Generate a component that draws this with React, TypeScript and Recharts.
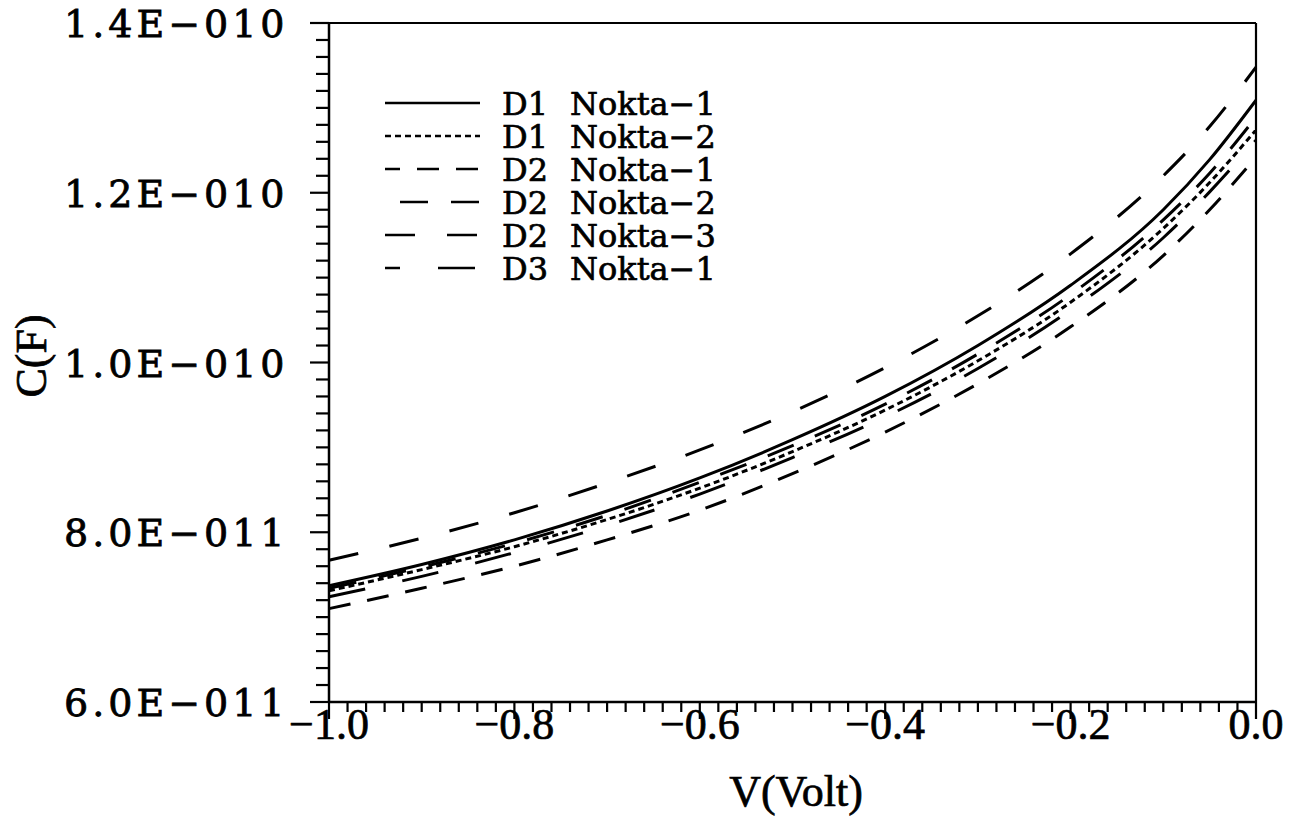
import { LineChart, Line, XAxis, YAxis, ReferenceLine, Legend } from "recharts";

// bias voltage (V)
const voltages = [-1.0, -0.9, -0.8, -0.7, -0.6, -0.5, -0.4, -0.3, -0.2, -0.1, -0.05, 0.0];

// capacitance in pF
const d1Nokta1 = [73.7, 76.2, 79.1, 82.5, 86.4, 90.9, 96.0, 102.0, 109.1, 118.0, 123.9, 130.9];
const d1Nokta2 = [73.1, 75.6, 78.3, 81.5, 85.2, 89.5, 94.4, 100.2, 107.1, 115.8, 121.2, 127.4];
const d2Nokta1 = [71.0, 73.4, 76.0, 79.1, 82.6, 86.9, 91.8, 97.5, 104.2, 112.6, 118.0, 124.2];
const d2Nokta2 = [73.4, 75.9, 78.7, 82.0, 85.9, 90.2, 95.1, 101.0, 108.0, 116.8, 122.3, 128.9];
const d2Nokta3 = [76.7, 79.3, 82.3, 85.8, 89.7, 94.2, 99.4, 105.5, 112.8, 122.0, 127.8, 134.8];
const d3Nokta1 = [72.4, 74.8, 77.6, 80.8, 84.5, 88.8, 93.6, 99.3, 106.2, 114.7, 120.1, 126.2];

const xTickLabels = ["−1.0", "−0.8", "−0.6", "−0.4", "−0.2", "0.0"];
const yTickLabels = ["6.0E−011", "8.0E−011", "1.0E−010", "1.2E−010", "1.4E−010"];

const seriesNames = ["D1 Nokta-1", "D1 Nokta-2", "D2 Nokta-1", "D2 Nokta-2", "D2 Nokta-3", "D3 Nokta-1"];
const seriesValues = [d1Nokta1, d1Nokta2, d2Nokta1, d2Nokta2, d2Nokta3, d3Nokta1];
const seriesDash = ["", "6 4", "22 17", "28 23", "30 32", "37 38"];
const legendOffset = [0, 0, 7, 36, 0, 22];

const data = voltages.map((v, i) => {
  const row: Record<string, number> = { v };
  seriesNames.forEach((name, s) => {
    row[name] = seriesValues[s][i];
  });
  return row;
});

// minor ticks every 0.02 V and every 2 pF
const xTicks = Array.from({ length: 51 }, (_, i) => -1 + i * 0.02);
const yTicks = Array.from({ length: 41 }, (_, i) => 60 + i * 2);

const serif = "'DejaVu Serif', serif";
const times = "'Liberation Serif', serif";

function XTick(props: any) {
  const { x, y, payload } = props;
  const k = Math.round((payload.value + 1) * 50);
  const major = k % 10 === 0;
  return (
    <g>
      <line x1={x} y1={y} x2={x} y2={y + (major ? 17 : 10)} stroke="#000" strokeWidth={2.2} />
      {major && (
        <text
          x={x}
          y={y + 37}
          textAnchor="middle"
          fontFamily={times}
          fontSize={44}
          fill="#000"
          stroke="#000"
          strokeWidth={0.7}
        >
          {xTickLabels[k / 10]}
        </text>
      )}
    </g>
  );
}

function YTick(props: any) {
  const { x, y, payload } = props;
  const k = Math.round((payload.value - 60) / 2);
  const major = k % 10 === 0;
  return (
    <g>
      <line x1={x} y1={y} x2={x - (major ? 19 : 13)} y2={y} stroke="#000" strokeWidth={2.2} />
      {major && (
        <text
          x={64}
          y={y + 14}
          textAnchor="start"
          fontFamily={serif}
          fontSize={38}
          letterSpacing={4}
          fill="#000"
          stroke="#000"
          strokeWidth={0.8}
        >
          {yTickLabels[k / 10]}
        </text>
      )}
    </g>
  );
}

function LegendBox() {
  return (
    <svg width={380} height={225}>
      {seriesNames.map((name, i) => {
        const cy = 18 + i * 33;
        const [dev, nokta] = name.split(" ");
        return (
          <g key={name}>
            <line
              x1={10}
              y1={cy}
              x2={105}
              y2={cy}
              stroke="#000"
              strokeWidth={2.5}
              strokeDasharray={seriesDash[i] || undefined}
              strokeDashoffset={legendOffset[i]}
            />
            <text x={127} y={cy + 12} fontFamily={serif} fontSize={32} fill="#000" stroke="#000" strokeWidth={0.7}>
              {dev}
            </text>
            <text x={195} y={cy + 12} fontFamily={serif} fontSize={32} fill="#000" stroke="#000" strokeWidth={0.7}>
              {nokta.replace("-", "−")}
            </text>
          </g>
        );
      })}
    </svg>
  );
}

export default function App() {
  return (
    <div style={{ position: "absolute", left: 0, top: 0, background: "#fff" }}>
      <LineChart width={1290} height={826} data={data} margin={{ top: 23, right: 34, bottom: 0, left: 0 }}>
        <XAxis
          dataKey="v"
          type="number"
          domain={[-1, 0]}
          ticks={xTicks}
          interval={0}
          height={124}
          tickSize={0}
          tickMargin={0}
          tick={<XTick />}
          axisLine={{ stroke: "#000", strokeWidth: 2.5 }}
        />
        <YAxis
          type="number"
          domain={[60, 140]}
          ticks={yTicks}
          interval={0}
          width={329}
          tickSize={0}
          tickMargin={0}
          tick={<YTick />}
          axisLine={{ stroke: "#000", strokeWidth: 2.5 }}
        />
        <ReferenceLine y={140} stroke="#000" strokeWidth={2} />
        <ReferenceLine x={0} stroke="#000" strokeWidth={2.2} />
        {seriesNames.map((name, i) => (
          <Line
            key={name}
            type="monotone"
            dataKey={name}
            stroke="#000"
            strokeWidth={3}
            strokeDasharray={seriesDash[i] || undefined}
            dot={false}
            isAnimationActive={false}
          />
        ))}
        <Legend
          layout="horizontal"
          verticalAlign="middle"
          align="center"
          content={() => <LegendBox />}
          wrapperStyle={{ left: 375, top: 85, width: 380, height: 225 }}
        />
      </LineChart>
      <div style={{ position: "absolute", left: 0, top: 0, pointerEvents: "none" }}>
        <svg width={1290} height={826}>
          <text
            x={796}
            y={806}
            textAnchor="middle"
            fontFamily={times}
            fontSize={44}
            fill="#000"
            stroke="#000"
            strokeWidth={0.7}
          >
            V(Volt)
          </text>
          <text
            x={46}
            y={356}
            textAnchor="middle"
            fontFamily={times}
            fontSize={44}
            fill="#000"
            stroke="#000"
            strokeWidth={0.7}
            transform="rotate(-90 46 356)"
          >
            C(F)
          </text>
        </svg>
      </div>
    </div>
  );
}
